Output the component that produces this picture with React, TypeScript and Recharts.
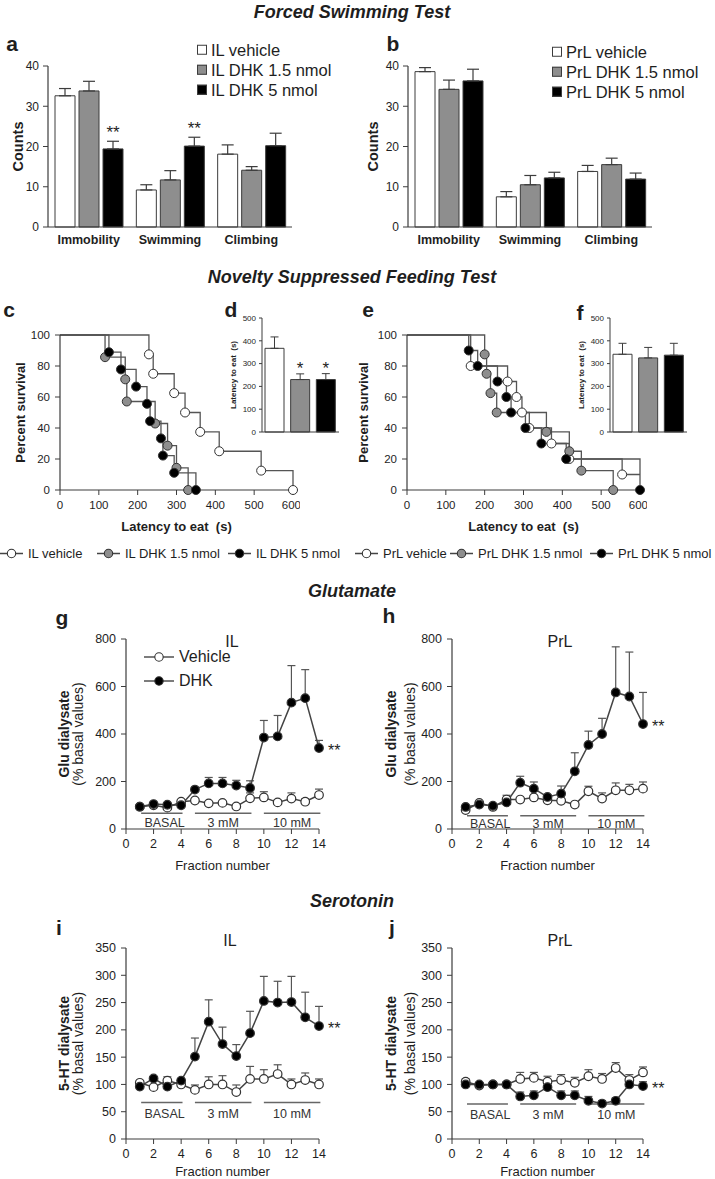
import React from "react";
import {
  BarChart,
  Bar,
  XAxis,
  YAxis,
  Cell,
  ErrorBar,
  LabelList,
  LineChart,
  Line,
  ReferenceLine,
  ReferenceDot,
} from "recharts";

const FONT = "'Liberation Sans', Arial, Helvetica, sans-serif";
const NARROW = "'Liberation Sans Narrow', 'Arial Narrow', 'Liberation Sans', Arial, sans-serif";
const INK = "#1e1e1e";
const AXIS = "#3c3c3c";
const GREY = "#8e8e8e";
const groupFills = ["#ffffff", GREY, "#000000"];

// Forced swimming test (a, b)
const fstCategories = ["Immobility", "Swimming", "Climbing"];
const ilVehicle = [32.6, 9.2, 18.1];
const ilVehicleErr = [1.8, 1.3, 2.3];
const ilDhk15 = [33.8, 11.7, 14.1];
const ilDhk15Err = [2.4, 2.3, 0.9];
const ilDhk5 = [19.4, 20.1, 20.2];
const ilDhk5Err = [1.9, 2.2, 3.1];
const ilDhk5Sig = ["**", "**", ""];

const prlVehicle = [38.6, 7.5, 13.8];
const prlVehicleErr = [1.0, 1.3, 1.5];
const prlDhk15 = [34.2, 10.5, 15.5];
const prlDhk15Err = [2.3, 2.3, 1.6];
const prlDhk5 = [36.3, 12.2, 11.9];
const prlDhk5Err = [2.9, 1.4, 1.5];
const prlDhk5Sig = ["", "", ""];

// NSF latency to eat (d, f)
const nsfGroups = ["vehicle", "DHK 1.5 nmol", "DHK 5 nmol"];
const ilLatency = [367, 230, 230];
const ilLatencyErr = [50, 25, 26];
const ilLatencySig = ["", "*", "*"];
const prlLatency = [341, 325, 337];
const prlLatencyErr = [48, 46, 52];
const prlLatencySig = ["", "", ""];

// NSF survival curves (c, e): event times (s) and percent surviving after each event
const ilVehTimes = [229, 240, 294, 322, 361, 410, 518, 600];
const ilVehSurv = [87.5, 75, 62.5, 50, 37.5, 25, 12.5, 0];
const ilDhk15Times = [116, 168, 172, 245, 277, 300, 330];
const ilDhk15Surv = [85.7, 71.4, 57.1, 42.9, 28.6, 14.3, 0];
const ilDhk5Times = [126, 157, 196, 224, 232, 260, 265, 294, 350];
const ilDhk5Surv = [88.9, 77.8, 66.7, 55.6, 44.4, 33.3, 22.2, 11.1, 0];

const prlVehTimes = [164, 259, 282, 296, 315, 372, 418, 554, 600];
const prlVehSurv = [80, 70, 60, 50, 40, 30, 20, 10, 10];
const prlDhk15Times = [200, 205, 215, 231, 359, 418, 449, 531];
const prlDhk15Surv = [87.5, 75, 62.5, 50, 37.5, 25, 12.5, 0];
const prlDhk5Times = [159, 182, 233, 256, 268, 305, 346, 410, 600];
const prlDhk5Surv = [90, 80, 70, 60, 50, 40, 30, 20, 0];

const latencyTicks = [0, 100, 200, 300, 400, 500, 600];
const survivalTicks = [0, 20, 40, 60, 80, 100];

// Microdialysis (g-j)
const fractions = [1, 2, 3, 4, 5, 6, 7, 8, 9, 10, 11, 12, 13, 14];
const fractionTicks = [0, 2, 4, 6, 8, 10, 12, 14];
const gluTicks = [0, 200, 400, 600, 800];
const htTicks = [0, 50, 100, 150, 200, 250, 300, 350];
const phaseLabels = ["BASAL", "3 mM", "10 mM"];
const phaseStart = [1.1, 5, 10];
const phaseEnd = [4.1, 9.1, 14.1];

const gluIlVeh = [94, 100, 90, 115, 120, 108, 110, 95, 129, 133, 112, 128, 115, 143];
const gluIlVehErr = [4, 5, 5, 6, 6, 6, 6, 6, 23, 24, 10, 24, 12, 25];
const gluIlDhk = [94, 105, 102, 100, 166, 192, 192, 183, 173, 385, 390, 532, 551, 341];
const gluIlDhkErr = [4, 6, 6, 6, 8, 25, 25, 22, 30, 72, 88, 156, 120, 32];

const gluPrlVeh = [80, 110, 93, 124, 124, 133, 121, 119, 103, 159, 128, 163, 163, 170];
const gluPrlVehErr = [5, 5, 5, 18, 6, 6, 6, 6, 6, 21, 24, 31, 25, 28];
const gluPrlDhk = [93, 103, 98, 112, 195, 170, 135, 149, 243, 354, 400, 575, 558, 442];
const gluPrlDhkErr = [4, 5, 5, 8, 27, 28, 8, 32, 78, 58, 66, 192, 187, 133];

const htIlVeh = [103, 95, 107, 100, 90, 100, 100, 86, 110, 110, 119, 100, 108, 100];
const htIlVehErr = [3, 3, 7, 3, 9, 14, 16, 13, 23, 17, 17, 10, 13, 10];
const htIlDhk = [96, 111, 96, 107, 151, 215, 174, 152, 194, 253, 250, 251, 223, 207];
const htIlDhkErr = [3, 3, 3, 3, 34, 40, 31, 21, 40, 45, 39, 47, 46, 36];

const htPrlVeh = [105, 98, 100, 100, 110, 112, 105, 108, 103, 115, 110, 130, 108, 122];
const htPrlVehErr = [5, 5, 5, 5, 12, 10, 10, 10, 10, 12, 10, 10, 10, 10];
const htPrlDhk = [100, 100, 100, 100, 78, 80, 95, 80, 80, 70, 65, 70, 100, 97];
const htPrlDhkErr = [3, 3, 3, 3, 8, 8, 10, 8, 8, 8, 5, 5, 10, 8];

type TitleLine = { text: string; off: number; size: number; bold?: boolean; family?: string };

// rotated axis title, placed relative to the axis line
const yTitle = (lines: TitleLine[]) => (props: any) => {
  const vb = props.viewBox;
  const axisX = vb.x + vb.width;
  const cy = vb.y + vb.height / 2;
  return (
    <g>
      {lines.map((l, i) => {
        const x = axisX - l.off + l.size * 0.35;
        return (
          <text
            key={i}
            x={x}
            y={cy}
            transform={`rotate(-90 ${x} ${cy})`}
            textAnchor="middle"
            fontSize={l.size}
            fontWeight={l.bold ? 700 : 400}
            fontFamily={l.family ?? FONT}
            fill={INK}
          >
            {l.text}
          </text>
        );
      })}
    </g>
  );
};

const xTitle = (text: string, dy: number, size: number, bold: boolean, family = FONT) => (props: any) => {
  const vb = props.viewBox;
  return (
    <text x={vb.x + vb.width / 2} y={vb.y + dy} textAnchor="middle" fontSize={size} fontWeight={bold ? 700 : 400} fontFamily={family} fill={INK}>
      {text}
    </text>
  );
};

// asterisks above the error bar of a bar
const sigLabel = (vals: number[], errs: number[], size: number, lift: number) => (props: any) => {
  const { x, y, width, height, value, index } = props;
  if (!value) return null;
  const errTop = y - errs[index] * (height / vals[index]);
  return (
    <text x={x + width / 2} y={errTop - lift} textAnchor="middle" fontSize={size} fontFamily={FONT} fill={INK}>
      {value}
    </text>
  );
};

const kmPoints = (times: number[], surv: number[], censoredLast = false) => [
  { t: 0, s: 100, mark: false },
  ...times.map((t, i) => ({ t, s: surv[i], mark: !(censoredLast && i === times.length - 1) })),
];

const kmDot = (fill: string) => (props: any) => {
  const { cx, cy, index, payload } = props;
  if (!payload.mark) return <g key={`n${index}`} />;
  return <circle key={`d${index}`} cx={cx} cy={cy} r={4.5} fill={fill} stroke="#333" strokeWidth={1} />;
};

const microDot = (fill: string) => (props: any) => {
  const { cx, cy, index } = props;
  return <circle key={`m${index}`} cx={cx} cy={cy} r={4.3} fill={fill} stroke="#333" strokeWidth={1.2} />;
};

const starRight = (props: any) => {
  const { x, y, value } = props;
  if (!value) return null;
  return (
    <text x={x + 9} y={y + 8} fontSize={16} fontFamily={FONT} fill={INK}>
      {value}
    </text>
  );
};

const axisTick = (size: number, family = FONT) => ({ fontSize: size, fill: INK, fontFamily: family });

function FstChart({ vals, errs, sig, titleOff }: { vals: number[][]; errs: number[][]; sig: string[]; titleOff: number }) {
  const data = fstCategories.map((cat, i) => ({
    cat,
    g0: vals[0][i],
    e0: [0, errs[0][i]],
    g1: vals[1][i],
    e1: [0, errs[1][i]],
    g2: vals[2][i],
    e2: [0, errs[2][i]],
    sig: sig[i],
  }));
  return (
    <BarChart width={300} height={250} data={data} margin={{ top: 66, right: 8, bottom: 3, left: 0 }} barSize={20} barGap={4}>
      <XAxis
        dataKey="cat"
        height={20}
        tickLine={false}
        interval={0}
        axisLine={{ stroke: AXIS, strokeWidth: 1.2 }}
        tick={{ fontSize: 12.5, fontWeight: 700, fill: INK, fontFamily: FONT }}
      />
      <YAxis
        width={48}
        type="number"
        domain={[0, 40]}
        ticks={[0, 10, 20, 30, 40]}
        tickSize={5}
        tickMargin={4}
        axisLine={{ stroke: AXIS, strokeWidth: 1.2 }}
        tickLine={{ stroke: AXIS }}
        tick={axisTick(12)}
        label={{ content: yTitle([{ text: "Counts", off: titleOff, size: 14.5, bold: true }]) }}
      />
      {[0, 1, 2].map((k) => (
        <Bar key={k} dataKey={`g${k}`} fill={groupFills[k]} stroke={AXIS} strokeWidth={1} isAnimationActive={false}>
          <ErrorBar dataKey={`e${k}`} direction="y" width={6} stroke={AXIS} strokeWidth={1.2} />
          {k === 2 && <LabelList dataKey="sig" content={sigLabel(vals[2], errs[2], 17, 3)} />}
        </Bar>
      ))}
    </BarChart>
  );
}

function LatencyChart({ vals, errs, sig }: { vals: number[]; errs: number[]; sig: string[] }) {
  const data = nsfGroups.map((g, i) => ({ g, v: vals[i], e: [0, errs[i]], sig: sig[i] }));
  return (
    <BarChart width={123} height={135} data={data} margin={{ top: 13, right: 4, bottom: 0, left: 0 }} barSize={19}>
      <XAxis dataKey="g" height={8} tick={false} tickLine={false} axisLine={{ stroke: AXIS }} />
      <YAxis
        width={42}
        type="number"
        domain={[0, 500]}
        ticks={[0, 100, 200, 300, 400, 500]}
        tickSize={3}
        tickMargin={3}
        axisLine={{ stroke: AXIS }}
        tickLine={{ stroke: AXIS }}
        tick={axisTick(8)}
        label={{ content: yTitle([{ text: "Latency to eat\u00a0 (s)", off: 29, size: 8, bold: true }]) }}
      />
      <Bar dataKey="v" stroke={AXIS} strokeWidth={1} isAnimationActive={false}>
        {data.map((d, i) => (
          <Cell key={d.g} fill={groupFills[i]} />
        ))}
        <ErrorBar dataKey="e" direction="y" width={4} stroke={AXIS} strokeWidth={1} />
        <LabelList dataKey="sig" content={sigLabel(vals, errs, 17, 0)} />
      </Bar>
    </BarChart>
  );
}

function KmChart({ curves, titleOff }: { curves: { pts: any[]; fill: string }[]; titleOff: number }) {
  return (
    <LineChart width={300} height={240} margin={{ top: 35, right: 7, bottom: 10, left: 0 }}>
      <XAxis
        type="number"
        dataKey="t"
        domain={[0, 600]}
        ticks={latencyTicks}
        height={40}
        tickSize={5}
        tickMargin={6}
        axisLine={{ stroke: AXIS, strokeWidth: 1.2 }}
        tickLine={{ stroke: AXIS }}
        tick={axisTick(11.5)}
        label={{ content: xTitle("Latency to eat\u00a0 (s)", 41, 13, true) }}
      />
      <YAxis
        type="number"
        domain={[0, 100]}
        ticks={survivalTicks}
        width={60}
        tickSize={5}
        tickMargin={5}
        axisLine={{ stroke: AXIS, strokeWidth: 1.2 }}
        tickLine={{ stroke: AXIS }}
        tick={axisTick(11.5)}
        label={{ content: yTitle([{ text: "Percent survival", off: titleOff, size: 13, bold: true }]) }}
      />
      {curves.map((c, i) => (
        <Line
          key={i}
          data={c.pts}
          dataKey="s"
          type="stepAfter"
          stroke="#555"
          strokeWidth={1.3}
          dot={kmDot(c.fill)}
          activeDot={false}
          isAnimationActive={false}
        />
      ))}
    </LineChart>
  );
}

type MicroProps = {
  veh: number[];
  vehErr: number[];
  dhk: number[];
  dhkErr: number[];
  ticks: number[];
  height: number;
  top: number;
  xh: number;
  bottom: number;
  yw: number;
  right: number;
  lineY: number;
  textY: number;
  label: string;
  offs: [number, number];
  titleDy: number;
};

function MicroChart(p: MicroProps) {
  const last = fractions.length - 1;
  const data = fractions.map((f, i) => ({
    f,
    veh: p.veh[i],
    vehErr: [0, p.vehErr[i]],
    dhk: p.dhk[i],
    dhkErr: [0, p.dhkErr[i]],
    sig: i === last ? "**" : "",
  }));
  const yMax = p.ticks[p.ticks.length - 1];
  return (
    <LineChart width={360} height={p.height} data={data} margin={{ top: p.top, right: p.right, bottom: p.bottom, left: 0 }}>
      <XAxis
        type="number"
        dataKey="f"
        domain={[0, 14]}
        ticks={fractionTicks}
        height={p.xh}
        tickSize={5}
        tickMargin={5}
        axisLine={{ stroke: AXIS, strokeWidth: 1.2 }}
        tickLine={{ stroke: AXIS }}
        tick={axisTick(12.5, NARROW)}
        label={{ content: xTitle("Fraction number", p.titleDy, 13, false, NARROW) }}
      />
      <YAxis
        type="number"
        domain={[0, yMax]}
        ticks={p.ticks}
        width={p.yw}
        tickSize={5}
        tickMargin={5}
        axisLine={{ stroke: AXIS, strokeWidth: 1.2 }}
        tickLine={{ stroke: AXIS }}
        tick={axisTick(12.5, NARROW)}
        label={{
          content: yTitle([
            { text: p.label, off: p.offs[0], size: 14, bold: true },
            { text: "(% basal values)", off: p.offs[1], size: 14 },
          ]),
        }}
      />
      {phaseLabels.map((lab, i) => (
        <ReferenceLine
          key={`l${lab}`}
          segment={[
            { x: phaseStart[i], y: p.lineY },
            { x: phaseEnd[i], y: p.lineY },
          ]}
          stroke="#666"
          strokeWidth={1.5}
          ifOverflow="visible"
        />
      ))}
      {phaseLabels.map((lab, i) => (
        <ReferenceDot
          key={`t${lab}`}
          x={(phaseStart[i] + phaseEnd[i]) / 2 + (i === 0 ? 0.2 : 0)}
          y={p.textY}
          r={0}
          ifOverflow="visible"
          shape={(sp: any) => (
            <text x={sp.cx} y={sp.cy + 5} textAnchor="middle" fontSize={12.5} fontFamily={NARROW} fill="#333">
              {lab}
            </text>
          )}
        />
      ))}
      <Line dataKey="veh" stroke="#444" strokeWidth={1.5} dot={microDot("#fff")} activeDot={false} isAnimationActive={false}>
        <ErrorBar dataKey="vehErr" direction="y" width={4} stroke="#555" strokeWidth={1.2} />
      </Line>
      <Line dataKey="dhk" stroke="#444" strokeWidth={1.5} dot={microDot("#000")} activeDot={false} isAnimationActive={false}>
        <ErrorBar dataKey="dhkErr" direction="y" width={4} stroke="#555" strokeWidth={1.2} />
        <LabelList dataKey="sig" content={starRight} />
      </Line>
    </LineChart>
  );
}

function Txt(props: { x: number; y: number; size: number; bold?: boolean; italic?: boolean; anchor?: string; children: React.ReactNode }) {
  const { x, y, size, bold, italic, anchor = "middle", children } = props;
  const tx = anchor === "middle" ? "-50%" : anchor === "end" ? "-100%" : "0";
  return (
    <div
      style={{
        position: "absolute",
        left: x,
        top: y,
        transform: `translate(${tx}, -50%)`,
        fontSize: size,
        fontWeight: bold ? 700 : 400,
        fontStyle: italic ? "italic" : "normal",
        fontFamily: FONT,
        color: INK,
        lineHeight: 1,
        whiteSpace: "nowrap",
      }}
    >
      {children}
    </div>
  );
}

function Box({ x, y, children }: { x: number; y: number; children: React.ReactNode }) {
  return <div style={{ position: "absolute", left: x, top: y }}>{children}</div>;
}

function SquareKey({ x, y, fill, label }: { x: number; y: number; fill: string; label: string }) {
  return (
    <div style={{ position: "absolute", left: x, top: y, transform: "translateY(-50%)", display: "flex", alignItems: "center" }}>
      <div style={{ width: 8, height: 8, background: fill, border: `1px solid ${AXIS}`, marginRight: 4 }} />
      <span style={{ fontSize: 16.5, fontFamily: FONT, color: INK, lineHeight: 1 }}>{label}</span>
    </div>
  );
}

function LineKey({ x, y, fill, label, size, w }: { x: number; y: number; fill: string; label: string; size: number; w: number }) {
  return (
    <div style={{ position: "absolute", left: x, top: y, transform: "translateY(-50%)", display: "flex", alignItems: "center" }}>
      <svg width={w} height={12} style={{ marginRight: 5 }}>
        <line x1={0} y1={6} x2={w} y2={6} stroke="#444" strokeWidth={1.4} />
        <circle cx={w / 2} cy={6} r={4.2} fill={fill} stroke="#333" strokeWidth={1.1} />
      </svg>
      <span style={{ fontSize: size, fontFamily: FONT, color: INK, lineHeight: 1 }}>{label}</span>
    </div>
  );
}

const fstLegendIl = ["IL vehicle", "IL DHK 1.5 nmol", "IL DHK 5 nmol"];
const fstLegendPrl = ["PrL vehicle", "PrL DHK 1.5 nmol", "PrL DHK 5 nmol"];
const nsfLegend = ["IL vehicle", "IL DHK 1.5 nmol", "IL DHK 5 nmol", "PrL vehicle", "PrL DHK 1.5 nmol", "PrL DHK 5 nmol"];
const nsfLegendX = [0, 97, 228, 355, 450, 590];

export default function App() {
  return (
    <div style={{ position: "absolute", left: 0, top: 0, width: 715, height: 1179, background: "#fff", overflow: "hidden" }}>
      {/* Forced swimming */}
      <Box x={0} y={0}>
        <FstChart vals={[ilVehicle, ilDhk15, ilDhk5]} errs={[ilVehicleErr, ilDhk15Err, ilDhk5Err]} sig={ilDhk5Sig} titleOff={30} />
      </Box>
      <Box x={360} y={0}>
        <FstChart vals={[prlVehicle, prlDhk15, prlDhk5]} errs={[prlVehicleErr, prlDhk15Err, prlDhk5Err]} sig={prlDhk5Sig} titleOff={35} />
      </Box>
      {fstLegendIl.map((l, i) => (
        <SquareKey key={l} x={197} y={50 + i * 20} fill={groupFills[i]} label={l} />
      ))}
      {fstLegendPrl.map((l, i) => (
        <SquareKey key={l} x={552} y={52 + i * 20} fill={groupFills[i]} label={l} />
      ))}

      {/* Novelty suppressed feeding */}
      <Box x={0} y={300}>
        <KmChart
          titleOff={40}
          curves={[
            { pts: kmPoints(ilVehTimes, ilVehSurv), fill: "#fff" },
            { pts: kmPoints(ilDhk15Times, ilDhk15Surv), fill: GREY },
            { pts: kmPoints(ilDhk5Times, ilDhk5Surv), fill: "#000" },
          ]}
        />
      </Box>
      <Box x={347} y={300}>
        <KmChart
          titleOff={44}
          curves={[
            { pts: kmPoints(prlVehTimes, prlVehSurv, true), fill: "#fff" },
            { pts: kmPoints(prlDhk15Times, prlDhk15Surv), fill: GREY },
            { pts: kmPoints(prlDhk5Times, prlDhk5Surv), fill: "#000" },
          ]}
        />
      </Box>
      <Box x={220} y={305}>
        <LatencyChart vals={ilLatency} errs={ilLatencyErr} sig={ilLatencySig} />
      </Box>
      <Box x={568} y={305}>
        <LatencyChart vals={prlLatency} errs={prlLatencyErr} sig={prlLatencySig} />
      </Box>
      {nsfLegend.map((l, i) => (
        <LineKey key={l} x={nsfLegendX[i]} y={553} fill={groupFills[i % 3]} label={l} size={13} w={23} />
      ))}

      {/* Glutamate */}
      <Box x={0} y={600}>
        <MicroChart
          veh={gluIlVeh}
          vehErr={gluIlVehErr}
          dhk={gluIlDhk}
          dhkErr={gluIlDhkErr}
          ticks={gluTicks}
          height={280}
          top={39}
          xh={45}
          bottom={6}
          yw={126}
          right={41}
          lineY={66}
          textY={31}
          label="Glu dialysate"
          offs={[62, 48]}
          titleDy={41}
        />
      </Box>
      <Box x={330} y={600}>
        <MicroChart
          veh={gluPrlVeh}
          vehErr={gluPrlVehErr}
          dhk={gluPrlDhk}
          dhkErr={gluPrlDhkErr}
          ticks={gluTicks}
          height={280}
          top={39}
          xh={45}
          bottom={6}
          yw={122}
          right={47}
          lineY={56}
          textY={25}
          label="Glu dialysate"
          offs={[61, 42]}
          titleDy={41}
        />
      </Box>
      <LineKey x={144} y={657} fill="#fff" label="Vehicle" size={16} w={30} />
      <LineKey x={144} y={681} fill="#000" label="DHK" size={16} w={30} />

      {/* Serotonin */}
      <Box x={0} y={905}>
        <MicroChart
          veh={htIlVeh}
          vehErr={htIlVehErr}
          dhk={htIlDhk}
          dhkErr={htIlDhkErr}
          ticks={htTicks}
          height={274}
          top={43}
          xh={38}
          bottom={2}
          yw={126}
          right={41}
          lineY={67}
          textY={48}
          label="5-HT dialysate"
          offs={[62, 48]}
          titleDy={37}
        />
      </Box>
      <Box x={330} y={905}>
        <MicroChart
          veh={htPrlVeh}
          vehErr={htPrlVehErr}
          dhk={htPrlDhk}
          dhkErr={htPrlDhkErr}
          ticks={htTicks}
          height={274}
          top={43}
          xh={38}
          bottom={2}
          yw={122}
          right={47}
          lineY={64}
          textY={46}
          label="5-HT dialysate"
          offs={[61, 42]}
          titleDy={37}
        />
      </Box>

      {/* section titles */}
      <Txt x={352} y={12} size={18} bold italic>Forced Swimming Test</Txt>
      <Txt x={352} y={277} size={18} bold italic>Novelty Suppressed Feeding Test</Txt>
      <Txt x={352} y={591} size={18} bold italic>Glutamate</Txt>
      <Txt x={352} y={901} size={18} bold italic>Serotonin</Txt>

      {/* panel letters */}
      <Txt x={12} y={43} size={21} bold>a</Txt>
      <Txt x={393} y={43} size={21} bold>b</Txt>
      <Txt x={9} y={309} size={21} bold>c</Txt>
      <Txt x={231} y={309} size={21} bold>d</Txt>
      <Txt x={368} y={309} size={21} bold>e</Txt>
      <Txt x={580} y={312} size={21} bold>f</Txt>
      <Txt x={62} y={617} size={21} bold>g</Txt>
      <Txt x={389} y={615} size={21} bold>h</Txt>
      <Txt x={59} y={927} size={21} bold>i</Txt>
      <Txt x={392} y={927} size={21} bold>j</Txt>

      {/* region titles */}
      <Txt x={232} y={642} size={16}>IL</Txt>
      <Txt x={560} y={642} size={16}>PrL</Txt>
      <Txt x={230} y={941} size={16}>IL</Txt>
      <Txt x={560} y={941} size={16}>PrL</Txt>
    </div>
  );
}
